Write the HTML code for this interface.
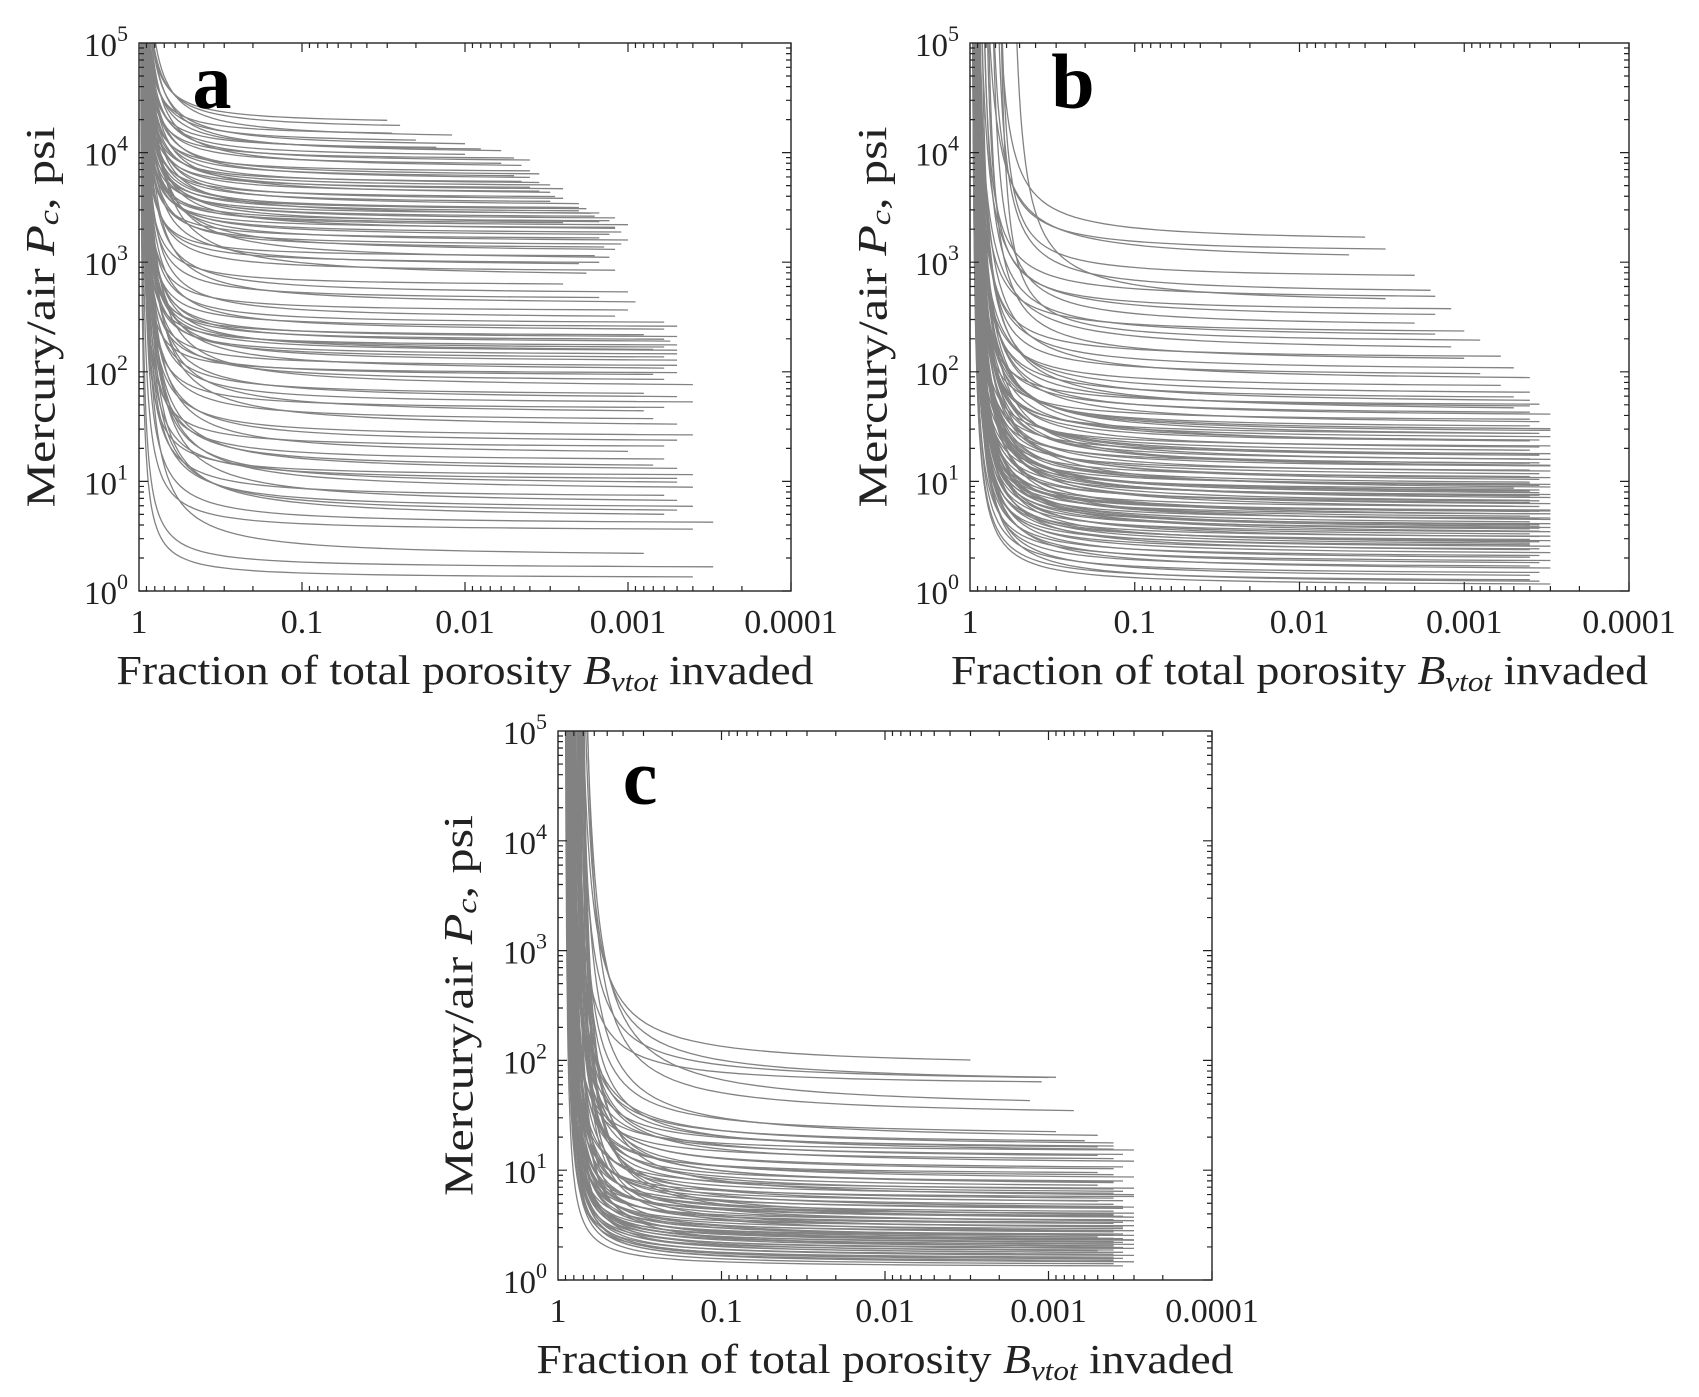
<!DOCTYPE html>
<html><head><meta charset="utf-8"><style>
html,body{margin:0;padding:0;background:#fff;}
svg{display:block;font-family:"Liberation Serif",serif;}
</style></head><body>
<svg id="fig" width="1699" height="1397" viewBox="0 0 1699 1397" xmlns="http://www.w3.org/2000/svg"></svg>
<script>
// ---- Panel a data ----
const pfA=[18000,16000,14000,13000,12000,11000,10500,10000,9500,9000,
8500,8000,7500,7000,6500,6000,5800,5500,5200,5000,
4800,4600,4400,4200,4000,3800,3600,3400,3200,3000,
2900,2800,2700,2600,2500,2400,2300,2200,2100,2000,
1900,1800,1700,1600,1500,1400,1300,1200,1100,1000,
950,900,800,700,600,500,450,400,350,300,
270,250,230,210,200,190,180,170,160,150,
140,130,120,110,100,95,90,80,70,60,
55,50,45,40,35,30,25,22,20,17,
15,13,12,11,10,9,8,7,6,5.5,
5,4.5,4,3.5,2,1.6,1.3,3000,2200,150];
const fminA=[.03,.025,.028,.012,.02,.01,.015,.008,.006,.01,
.005,.004,.006,.0045,.004,.0035,.005,.004,.0045,.0035,
.003,.004,.0025,.0035,.003,.0028,.0025,.003,.002,.0025,
.0018,.002,.0015,.0017,.0016,.0012,.0013,.0015,.001,.0012,
.0012,.0011,.0013,.0015,.001,.0011,.0014,.0012,.0016,.0013,
.0015,.002,.0012,.0018,.0025,.001,.0015,.0009,.001,.0012,
.0006,.0005,.0006,.0008,.0005,.0006,.00055,.0005,.0006,.0007,
.0005,.0006,.0005,.0005,.0006,.0005,.0007,.0006,.0004,.0008,
.0005,.0004,.0006,.0008,.0007,.0005,.0004,.0005,.0006,.001,
.0006,.0007,.0005,.0004,.0005,.0005,.0004,.0006,.0005,.0004,
.0005,.0006,.0003,.0004,.0008,.0003,.0004,.002,.0025,.0005];
const gA=[.06,.07,.05,.09,.06,.08,.05,.07,.09,.06,
.05,.07,.06,.09,.05,.07,.06,.08,.05,.07,
.06,.05,.07,.06,.09,.05,.07,.06,.08,.05,
.07,.06,.05,.09,.06,.07,.05,.08,.06,.05,
.09,.06,.07,.05,.08,.06,.07,.11,.05,.13,
.06,.09,.07,.15,.06,.09,.07,.11,.06,.09,
.07,.06,.09,.05,.07,.06,.08,.05,.07,.09,
.06,.07,.09,.06,.11,.05,.07,.09,.13,.08,
.11,.09,.07,.13,.09,.15,.09,.11,.07,.13,
.09,.11,.13,.07,.09,.13,.15,.09,.16,.11,
.13,.15,.09,.07,.13,.06,.05,.06,.05,.07];
// ---- Panel b data ----
const pfB=[1500,1200,1000,700,500,450,400,350,300,250,
220,200,180,150,130,120,100,90,80,70,
60,55,50,48,45,42,40,38,35,32,
30,28,26,25,24,22,21,20,19,18,
17,16,15,14.5,14,13.5,13,12.5,12,11.5,
11,10.5,10,9.5,9,8.8,8.5,8.2,8,7.8,
7.5,7.2,7,6.8,6.5,6.3,6,5.8,5.6,5.4,
5.2,5,4.9,4.8,4.6,4.5,4.4,4.2,4,3.9,
3.8,3.7,3.6,3.5,3.4,3.3,3.2,3.1,3,2.9,
2.8,2.7,2.6,2.5,2.4,2.3,2.2,2.1,2,1.9,
1.8,1.7,1.6,1.5,1.4,1.3,1.2,1.15,1.1,6.2,
4.1,3.6,2.55,5.1,7.3,9.2,12.8,16.5,22,27];
const fminB=[.004,.003,.005,.002,.0016,.0015,.003,.0012,.0015,.002,
.001,.0015,.0008,.0012,.0006,.001,.0005,.0008,.0004,.0006,
.0004,.0005,.0004,.00035,.0004,.0005,.0004,.0003,.0004,.00035,
.0004,.0003,.00035,.0004,.0003,.00035,.0004,.0003,.00035,.0004,
.0003,.00035,.0004,.0003,.00035,.0004,.0003,.00035,.0004,.0003,
.00035,.0004,.0003,.00035,.0004,.0003,.00035,.0005,.0003,.00035,
.0004,.0003,.00035,.0004,.0003,.00035,.0004,.0003,.00035,.0005,
.0003,.00035,.0004,.0003,.00035,.0004,.0003,.00035,.0004,.0003,
.00035,.0004,.0003,.00035,.0004,.0003,.00035,.0004,.0003,.00035,
.0004,.0003,.00035,.0004,.0003,.00035,.0004,.0003,.00035,.0004,
.0003,.00035,.0004,.0003,.00035,.0004,.0004,.00035,.0003,.0004,
.0003,.00035,.0004,.0003,.00035,.0004,.0003,.00035,.0004,.0003];
const gB=[.12,.1,.15,.09,.12,.1,.15,.09,.13,.12,
.09,.12,.1,.15,.09,.13,.12,.09,.15,.1,
.12,.1,.14,.08,.12,.16,.1,.12,.08,.14,
.1,.12,.08,.14,.1,.12,.16,.08,.12,.1,
.08,.12,.1,.14,.08,.12,.1,.16,.08,.12,
.1,.08,.12,.14,.08,.1,.12,.08,.16,.1,
.12,.08,.1,.12,.14,.08,.1,.12,.08,.14,
.08,.1,.12,.08,.14,.1,.08,.12,.1,.08,
.1,.12,.08,.1,.12,.08,.14,.1,.08,.12,
.08,.1,.12,.08,.1,.08,.12,.1,.08,.1,
.08,.1,.08,.12,.08,.1,.08,.1,.08,.12,
.14,.12,.1,.08,.12,.1,.14,.12,.1,.12];
const x0B=[.75,.8,.9,.7,.75,.9,.6,.85,.95,.8,
.95,.9,.7,1,.95,.85,1,.9,.97,1,
1,.98,.96,1,.99,.97,1,.95,1,.98,
.97,1,.96,.99,1,.95,.98,1,.97,.96,
1,.98,.96,1,.99,.97,1,.95,1,.98,
.97,1,.96,.99,1,.95,.98,1,.97,.96,
1,.98,.96,1,.99,.97,1,.95,1,.98,
.97,1,.96,.99,1,.95,.98,1,.97,.96,
1,.98,.96,1,.99,.97,1,.95,1,.98,
.97,1,.96,.99,1,.95,.98,1,.97,.96,
1,.98,.96,1,.99,.97,1,.95,1,.98,
.97,1,.96,.99,1,.95,.98,1,.97,.96];
// ---- Panel c data ----
const pfC=[85,62,60,58,35,30,20,18,17,16,
15.5,15,14.5,14,13,12.5,12,11,10,9.5,
9,8.5,8,7.5,7,6.8,6.5,6.2,6,5.8,
5.5,5.2,5,4.8,4.6,4.4,4.2,4,3.9,3.8,
3.7,3.6,3.5,3.4,3.3,3.2,3.1,3,2.9,2.8,
2.7,2.6,2.5,2.45,2.4,2.35,2.3,2.25,2.2,2.15,
2.1,2.05,2,1.95,1.9,1.85,1.8,1.75,1.7,1.65,
1.6,1.55,1.5,1.45,1.4,1.35,1.3,2.6,3.4,4.3,
1.9,2.2,2.8,3.6,5.4,7.2,1.7,2.4,3.2,1.5];
const fminC=[.003,.001,.0009,.0011,.0013,.0007,.0009,.0005,.0006,.0004,
.0004,.0005,.0003,.0004,.00035,.0005,.0004,.0003,.00035,.0004,
.0005,.0004,.0003,.00035,.0004,.0005,.0003,.0004,.00035,.0004,
.0003,.0004,.00035,.0005,.0004,.0003,.00035,.0004,.0003,.0005,
.0004,.00035,.0003,.0004,.0005,.00035,.0004,.0003,.0004,.00035,
.0003,.0004,.00035,.0004,.0003,.0005,.0004,.00035,.0003,.0004,
.00035,.0004,.0003,.0004,.00035,.0003,.0004,.0005,.00035,.0004,
.0003,.0004,.00035,.0004,.0003,.0004,.00035,.0004,.0003,.00035,
.0004,.0003,.00035,.0004,.0003,.0004,.00035,.0004,.0003,.0004];
const gC=[.18,.15,.2,.12,.25,.2,.15,.2,.12,.15,
.1,.12,.08,.15,.1,.12,.09,.14,.1,.12,
.08,.1,.12,.09,.14,.1,.08,.12,.1,.09,
.07,.1,.08,.12,.09,.07,.1,.08,.06,.09,
.07,.08,.1,.06,.09,.07,.08,.06,.09,.07,
.06,.08,.07,.06,.09,.07,.06,.08,.07,.06,
.07,.06,.08,.07,.06,.07,.06,.08,.07,.06,
.07,.06,.07,.06,.07,.06,.05,.12,.14,.12,
.1,.08,.12,.14,.15,.12,.07,.1,.12,.06];
const x0C=[.8,.8,.78,.85,.78,.75,.8,.8,.85,.9,
.85,.8,.9,.8,.85,.8,.9,.85,.8,.88,
.85,.9,.8,.85,.88,.82,.9,.85,.8,.88,
.9,.85,.88,.8,.9,.86,.88,.84,.9,.86,
.88,.9,.85,.9,.87,.88,.9,.86,.88,.9,
.9,.88,.86,.9,.88,.85,.9,.88,.9,.87,
.9,.88,.9,.86,.9,.88,.9,.87,.9,.92,
.9,.92,.9,.88,.92,.9,.92,.78,.75,.75,
.8,.78,.76,.75,.75,.74,.82,.8,.78,.85];
const xTickLabels=["1","0.1","0.01","0.001","0.0001"];
const yTickExps=["0","1","2","3","4","5"];

const NS="http://www.w3.org/2000/svg";
const svg=document.getElementById('fig');
function el(tag,attrs,parent){const e=document.createElementNS(NS,tag);for(const k in attrs)e.setAttribute(k,attrs[k]);(parent||svg).appendChild(e);return e;}

function panel(id,L,T,R,B,letter,letterXY,ylabX,pf,fmin,g,x0){
  const grp=el('g',{});
  
  
  const W=R-L,H=B-T;
  const xs=v=>L+(-Math.log10(v))/4*W;
  const ys=p=>B-Math.log10(p)/5*H;
  const cp=el('clipPath',{id:'clip'+id},grp);
  el('rect',{x:L,y:T,width:W,height:H},cp);
  const curves=el('g',{'clip-path':'url(#clip'+id+')'},grp);
  
  
  for(let i=0;i<pf.length;i++){
    const xx0=x0?x0[i]:1;
    const umax=-Math.log10(fmin[i]/xx0);
    let d='';
    const N=80;
    for(let k=0;k<=N;k++){
      const u=Math.pow(10,Math.log10(0.0008)+(Math.log10(umax)-Math.log10(0.0008))*k/N);
      const x=xx0*Math.pow(10,-u);
      let lp=Math.log10(pf[i])+g[i]/u;
      if(lp>5.3)lp=5.3;
      const px=xs(x),py=ys(Math.pow(10,lp));
      d+=(k?'L':'M')+px.toFixed(1)+' '+py.toFixed(1);
    }
    const p=el('path',{d:d,fill:'none',stroke:'#828282','stroke-width':1.3},curves);
    
    
  }
  const box=el('rect',{x:L,y:T,width:W,height:H,fill:'none',stroke:'#222','stroke-width':1.4},grp);
  
  
  let td='';
  for(let e=0;e<5;e++){for(let m=1;m<10;m++){
    const v=m*Math.pow(10,e);const y=ys(v);const len=m==1?9:5;
    td+=`M${L} ${y}h${len}M${R} ${y}h${-len}`;
  }}
  for(let e=0;e<4;e++){for(let m=1;m<10;m++){
    const v=m*Math.pow(10,-e-1);const x=xs(v);const len=m==1?9:5;
    td+=`M${x} ${B}v${-len}M${x} ${T}v${len}`;
  }}
  el('path',{d:td,stroke:'#222','stroke-width':1.2,fill:'none'},grp);
  for(let i=0;i<yTickExps.length;i++){
    const y=ys(Math.pow(10,+yTickExps[i]));
    const t=el('text',{x:L-11,y:y+13,'text-anchor':'end','font-size':33,fill:'#222'},grp);
    
    
    t.innerHTML='10<tspan dy="-15" font-size="22">'+yTickExps[i]+'</tspan>';
  }
  for(let i=0;i<xTickLabels.length;i++){
    const x=xs(parseFloat(xTickLabels[i]));
    const t=el('text',{x:x,y:B+42,'text-anchor':'middle','font-size':34,fill:'#222'},grp);
    
    
    t.textContent=xTickLabels[i];
  }
  const xt=el('text',{x:(L+R)/2,y:B+93,'text-anchor':'middle','font-size':41,fill:'#222',textLength:697,lengthAdjust:'spacingAndGlyphs'},grp);
  
  
  xt.innerHTML='Fraction of total porosity <tspan font-style="italic">B</tspan><tspan font-style="italic" font-size="28" dy="7">vtot</tspan><tspan dy="-7"> invaded</tspan>';
  const yc=(T+B)/2;
  const yt=el('text',{x:ylabX,y:yc,'text-anchor':'middle','font-size':41,fill:'#222',transform:`rotate(-90 ${ylabX} ${yc})`,'dominant-baseline':'middle',textLength:381,lengthAdjust:'spacingAndGlyphs'},grp);
  
  
  yt.innerHTML='Mercury/air <tspan font-style="italic">P</tspan><tspan font-style="italic" font-size="28" dy="7">c</tspan><tspan dy="-7">, psi</tspan>';
  const lt=el('text',{x:letterXY[0],y:letterXY[1],'text-anchor':'middle','font-size':78,'font-weight':'bold',fill:'#000'},grp);
  
  
  lt.textContent=letter;
}
panel('a',139,43,791,591,'a',[212,108],45,pfA,fminA,gA,null);
panel('b',970,43,1629,591,'b',[1073,108],877,pfB,fminB,gB,x0B);
panel('c',558,731,1212,1280,'c',[640,804],463,pfC,fminC,gC,x0C);
</script>
</body></html>
